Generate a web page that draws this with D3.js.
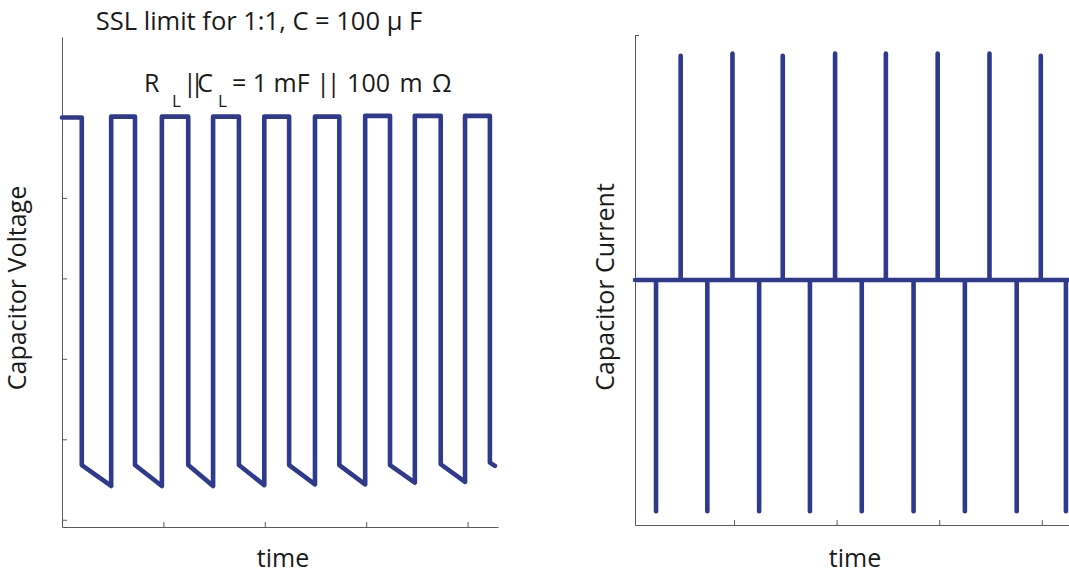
<!DOCTYPE html>
<html>
<head>
<meta charset="utf-8">
<script src="https://cdn.jsdelivr.net/npm/d3@7"></script>
<style>
  body { margin: 0; background: #fff; }
  svg { display: block; font-family: "Open Sans", "Noto Sans", sans-serif; fill: #1a1a1a; }
  .axis path, .axis line { stroke: #5a5a5a; stroke-width: 1; }
</style>
</head>
<body>
<div id="graphic"></div>
<script>
// ---- data ----
// left panel: capacitor voltage (switching times in periods)
const fallTimes = [0.39, 1.44, 2.49, 3.49, 4.48, 5.47, 6.47, 7.47, 8.44];
const riseTimes = [0.97, 1.97, 2.98, 3.99, 4.99, 5.98, 6.96, 7.95];
const highLevel = [5.0, 5.01, 5.01, 5.01, 5.01, 5.01, 5.02, 5.02, 5.02];
const dropLevel = [0.68, 0.68, 0.68, 0.68, 0.68, 0.68, 0.68, 0.69, 0.71];
const troughLevel = [0.42, 0.42, 0.42, 0.43, 0.44, 0.44, 0.46, 0.47];
const voltageEnd = [8.54, 0.67];
const voltageTicks = [0, 1, 2, 3, 4, 5];
const timeTicks = [2, 4, 6, 8];

// right panel: capacitor current spikes
const negSpikeTimes = [0.48, 1.48, 2.49, 3.48, 4.49, 5.50, 6.50, 7.51, 8.47];
const negSpikePeaks = [-1.0, -1.0, -1.0, -1.0, -1.0, -1.0, -1.0, -1.0, -1.0];
const posSpikeTimes = [0.96, 1.97, 2.95, 3.97, 4.96, 5.97, 6.98, 7.98];
const posSpikePeaks = [0.97, 0.98, 0.97, 0.98, 0.98, 0.98, 0.98, 0.97];
const currentTicks = [1.06];

const lineColor = "#2f3a8c";

var svg = d3.select("#graphic").append("svg")
        .attr("width", 1069)
        .attr("height", 576);

// ---- scales ----
var xL = d3.scaleLinear().domain([0, 8.6]).range([62, 498]);
var yL = d3.scaleLinear().domain([-0.09, 6.0]).range([527, 37]);

var xR = d3.scaleLinear().domain([0.07, 8.6]).range([635, 1072.6]);
var yR = d3.scaleLinear().domain([-1.06, 1.06]).range([525, 35]);

// ---- axes (MATLAB style, ticks inside, no labels) ----
svg.append("g")
        .attr("class", "axis")
        .attr("transform", "translate(0,527)")
        .call(d3.axisBottom(xL).tickValues(timeTicks).tickSize(-5).tickSizeOuter(0).tickFormat(""));

svg.append("g")
        .attr("class", "axis")
        .attr("transform", "translate(62,0)")
        .call(d3.axisLeft(yL).tickValues(voltageTicks).tickSize(-5).tickSizeOuter(0).tickFormat(""));

svg.append("g")
        .attr("class", "axis")
        .attr("transform", "translate(0,525)")
        .call(d3.axisBottom(xR).tickValues(timeTicks).tickSize(-5).tickSizeOuter(0).tickFormat(""));

svg.append("g")
        .attr("class", "axis")
        .attr("transform", "translate(635,0)")
        .call(d3.axisLeft(yR).tickValues(currentTicks).tickSize(-4).tickSizeOuter(0).tickFormat(""));

svg.selectAll(".axis .domain").attr("fill", "none");

// ---- voltage trace ----
var voltagePts = [[0, highLevel[0]]];
fallTimes.forEach(function(t, i) {
    voltagePts.push([t, highLevel[i]]);
    voltagePts.push([t, dropLevel[i]]);
    if (i < riseTimes.length) {
        voltagePts.push([riseTimes[i], troughLevel[i]]);
        voltagePts.push([riseTimes[i], highLevel[i + 1]]);
    }
});
voltagePts.push(voltageEnd);

var lineL = d3.line().x(d => xL(d[0])).y(d => yL(d[1]));

svg.append("path")
        .datum(voltagePts)
        .attr("d", lineL)
        .attr("fill", "none")
        .attr("stroke", lineColor)
        .attr("stroke-width", 4.6)
        .attr("stroke-linejoin", "round")
        .attr("stroke-linecap", "round");

// ---- current trace ----
var events = negSpikeTimes.map((t, i) => [t, negSpikePeaks[i]])
        .concat(posSpikeTimes.map((t, i) => [t, posSpikePeaks[i]]))
        .sort((a, b) => a[0] - b[0]);

var currentPts = [[0.07, 0]];
events.forEach(function(e) {
    currentPts.push([e[0], 0], [e[0], e[1]], [e[0], 0]);
});
currentPts.push([8.6, 0]);

var lineR = d3.line().x(d => xR(d[0])).y(d => yR(d[1]));

svg.append("path")
        .datum(currentPts)
        .attr("d", lineR)
        .attr("fill", "none")
        .attr("stroke", lineColor)
        .attr("stroke-width", 4.6)
        .attr("stroke-linejoin", "round")
        .attr("stroke-linecap", "round");

// ---- text ----
svg.append("text")
        .attr("x", 259)
        .attr("y", 30)
        .attr("text-anchor", "middle")
        .style("font-size", "25.5px")
        .text("SSL limit for 1:1, C = 100 \u03bc F");

// TeX-like line with subscripts
var sub = svg.append("text")
        .attr("y", 92)
        .style("font-size", "25px");
sub.append("tspan").attr("x", 144).text("R");
sub.append("tspan").attr("x", 172).attr("y", 107).style("font-size", "17px").text("L");
sub.append("tspan").attr("x", 183).attr("y", 92)
        .attr("textLength", 30).attr("lengthAdjust", "spacing").text("||C");
sub.append("tspan").attr("x", 218).attr("y", 107).style("font-size", "17px").text("L");
sub.append("tspan").attr("x", 232).attr("y", 92).text("= 1 mF ");
sub.append("tspan").style("letter-spacing", "-3px").text("||");
sub.append("tspan").style("word-spacing", "3px").text(" 100 m \u03a9");

svg.append("text")
        .attr("transform", "translate(26,288) rotate(-90)")
        .attr("text-anchor", "middle")
        .style("font-size", "25px")
        .text("Capacitor Voltage");

svg.append("text")
        .attr("transform", "translate(614,287) rotate(-90)")
        .attr("text-anchor", "middle")
        .style("font-size", "25px")
        .text("Capacitor Current");

svg.append("text")
        .attr("x", 283)
        .attr("y", 567)
        .attr("text-anchor", "middle")
        .style("font-size", "25px")
        .text("time");

svg.append("text")
        .attr("x", 855)
        .attr("y", 567)
        .attr("text-anchor", "middle")
        .style("font-size", "25px")
        .text("time");
</script>
</body>
</html>
